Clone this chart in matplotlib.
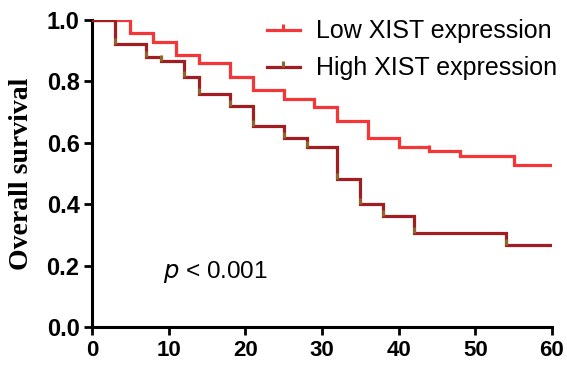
import matplotlib
matplotlib.use("Agg")
import matplotlib.pyplot as plt
from matplotlib.path import Path

# Data
low_times = [0, 5, 8, 11, 14, 18, 21, 25, 29, 32, 36, 40, 44, 48, 55, 60]
low_surv = [1.0, 0.957, 0.928, 0.886, 0.859, 0.813, 0.772, 0.743, 0.715,
            0.671, 0.615, 0.585, 0.572, 0.557, 0.528, 0.528]
high_times = [0, 3, 7, 9, 12, 14, 18, 21, 25, 28, 32, 35, 38, 42, 54, 60]
high_surv = [1.0, 0.921, 0.881, 0.868, 0.813, 0.759, 0.721, 0.655, 0.615,
             0.586, 0.482, 0.401, 0.362, 0.305, 0.267, 0.267]
x_ticks = [0, 10, 20, 30, 40, 50, 60]
y_ticks = [0.0, 0.2, 0.4, 0.6, 0.8, 1.0]
series_labels = ["Low XIST expression", "High XIST expression"]
p_text = "< 0.001"

low_color = "#F33638"
high_color = "#A11D22"
censor_color = "#8A6A2C"

tick_up = Path([(0, 0), (0, 1)], [Path.MOVETO, Path.LINETO])

fig = plt.figure(figsize=(5.67, 3.65), dpi=100)
ax = fig.add_axes([0.1623, 0.1041, 0.8112, 0.8411])

ax.step(low_times, low_surv, where="post", color=low_color, lw=2.3,
        solid_joinstyle="miter", zorder=3)
ax.plot(low_times[1:-1], low_surv[1:-1], ls="none", marker=tick_up,
        markersize=8, markeredgewidth=2.2, color=low_color, zorder=3)
ax.step(high_times, high_surv, where="post", color=high_color, lw=2.3,
        solid_joinstyle="miter", zorder=4)
ax.plot(high_times[1:-1], high_surv[1:-1], ls="none", marker=tick_up,
        markersize=8, markeredgewidth=2.2, color=censor_color, zorder=5)

# legend handles
h_low, = ax.plot([], [], color=low_color, lw=2.3, marker=tick_up,
                 markersize=9, markeredgewidth=2.2, markeredgecolor=low_color)
h_high, = ax.plot([], [], color=high_color, lw=2.3, marker=tick_up,
                  markersize=9, markeredgewidth=2.2, markeredgecolor=censor_color)
leg = ax.legend([h_low, h_high], series_labels, loc="upper right",
                bbox_to_anchor=(1.06, 1.075), frameon=False,
                prop={"family": "Liberation Sans", "size": 18},
                handlelength=1.3, handletextpad=0.65, labelspacing=0.52,
                markerfirst=True, numpoints=1)

ax.text(9.3, 0.18, "$\\it{p}$ " + p_text, fontsize=17.5,
        family="Liberation Sans", va="center", ha="left")

ax.set_xlim(0, 60)
ax.set_ylim(0, 1.0)
ax.set_xticks(x_ticks)
ax.set_yticks(y_ticks)
ax.set_yticklabels([f"{v:.1f}" for v in y_ticks])
for lab in ax.get_xticklabels():
    lab.set_fontfamily("Liberation Sans")
    lab.set_fontweight("bold")
    lab.set_fontsize(16)
for lab in ax.get_yticklabels():
    lab.set_fontfamily("Liberation Sans")
    lab.set_fontweight("bold")
    lab.set_fontsize(17)
ax.tick_params(direction="out", length=6, width=2, pad=3, colors="black")
for s in ["top", "right"]:
    ax.spines[s].set_visible(False)
for s in ["left", "bottom"]:
    ax.spines[s].set_linewidth(2.2)
ax.set_ylabel("Overall survival", fontfamily="Liberation Serif",
              fontweight="bold", fontsize=20, labelpad=9)

fig.savefig("out.png", dpi=100)
